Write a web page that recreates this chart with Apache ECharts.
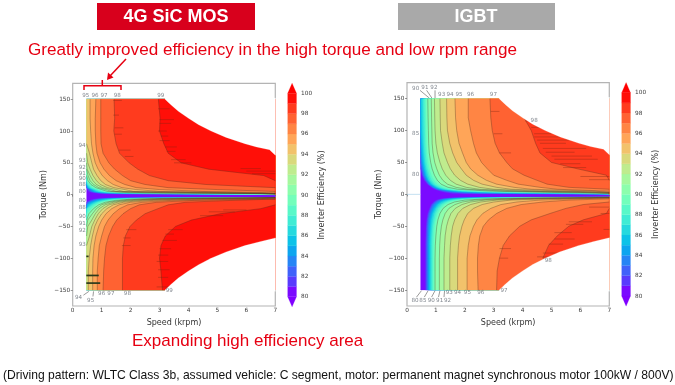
<!DOCTYPE html>
<html><head><meta charset="utf-8">
<style>html,body{margin:0;padding:0;background:#fff}#c{width:675px;height:385px;filter:blur(.45px)}</style>
<script src="https://cdn.jsdelivr.net/npm/echarts@6/dist/echarts.min.js"></script>
</head><body><div id="c"></div>
<script>
const torqueTicks=[-150,-100,-50,0,50,100,150];
const bandColors=['#7a0aff','#593bfd','#4062fa','#2685f5','#0da5ef','#0dc2e8','#26d9de','#40ecd4','#59f8c8','#73febb','#8cfead','#a6f89e','#bfec8e','#d9d97c','#f2c26b','#ffa558','#ff8544','#ff6232','#ff3b1e','#ff0f08'];
const upperRows=[150,120,100,80,65,50,40,30,22,16,11,8,5,3,1.5,0];
const lowerRows=[-150,-120,-100,-80,-65,-50,-40,-30,-22,-16,-12,-9,-7,-5.5,-4.5];
const envUpperSpeed=[3.19,3.4,3.65,4,4.35,4.78,5.3,5.95,6.35,6.8,7];
const envUpperTorque=[150,141,131,120,110,100,90,80,75,70.5,62];
const envLowerSpeed=[3.19,3.4,3.65,4,4.35,4.78,5.3,5.95,6.5,7];
const envLowerTorque=[-150,-141,-131,-120,-110,-100,-90,-80,-73.5,-68];
// speed at which each efficiency level 81..99 is reached on each torque row (0 = below the left edge, 7 = not reached)
const sicUpper=[
[0,0,0,0,0,0,0,0,0,0,0,.5,.55,.7,1,7],
[0,0,0,0,0,0,0,0,0,0,0,.55,.6,.78,1.2,7],
[0,0,0,0,0,0,0,0,0,0,.48,.58,.65,.86,1.4,7],
[0,0,0,0,0,0,0,0,0,0,.5,.62,.7,.95,1.7,7],
[0,0,0,0,0,0,0,0,0,.48,.53,.66,.75,1.05,2.1,7],
[0,0,0,0,0,0,0,0,0,.49,.56,.7,.82,1.18,2.6,7],
[0,0,0,0,0,0,0,0,0,.5,.6,.75,.9,1.33,3.2,7],
[0,0,0,0,0,0,0,0,.48,.53,.65,.82,1,1.5,4,7],
[0,0,0,0,0,0,0,0,.5,.58,.72,.9,1.1,1.75,5,7],
[0,0,0,0,0,0,0,.48,.53,.63,.8,1,1.2,2,6.5,7],
[0,0,0,0,0,0,.48,.53,.6,.72,.9,1.15,1.35,2.5,7,7],
[0,0,0,0,0,.48,.5,.6,.7,.82,1.03,1.3,1.5,3.2,7,7],
[0,0,0,0,.48,.52,.6,.7,.82,.95,1.2,1.5,1.75,4.5,7,7],
[0,0,0,.48,.58,.66,.72,.84,.97,1.13,1.42,1.8,2.1,5.5,7,7],
[.6,.6,.62,.65,.7,.78,.88,1.02,1.2,1.4,1.7,2.2,3,6.5,7,7],
[.8,.78,.78,.8,.84,.95,1.08,1.27,1.5,1.8,2.2,3,4.5,7,7,7],
[.97,.97,.97,.98,1.05,1.25,1.45,1.72,2,2.5,3.3,5,7,7,7,7],
[1.43,1.45,1.42,1.5,1.62,1.95,2.25,2.65,3.3,4.6,7,7,7,7,7,7],
[2.96,3.02,3,3.15,3.3,3.75,4.7,6.6,7,7,7,7,7,7,7,7]];
const sicLower=[
[0,0,0,0,0,0,0,0,0,0,.48,.57,.72,1.05,2.4],
[0,0,0,0,0,0,0,0,0,0,.5,.63,.8,1.2,2.9],
[0,0,0,0,0,0,0,0,0,0,.55,.7,.9,1.36,3.5],
[0,0,0,0,0,0,0,0,0,.48,.6,.77,1,1.55,4.2],
[0,0,0,0,0,0,0,0,0,.52,.67,.85,1.12,1.75,5],
[0,0,0,0,0,0,0,0,0,.58,.74,.95,1.27,2,6],
[0,0,0,0,0,0,0,0,.48,.65,.82,1.05,1.42,2.3,7],
[0,0,0,0,0,0,0,0,.52,.72,.9,1.17,1.6,2.7,7],
[0,0,0,0,0,0,0,.5,.64,.8,1,1.3,1.8,3.1,7],
[0,0,0,0,0,0,.48,.56,.72,.9,1.12,1.48,2.05,3.6,7],
[0,0,0,0,0,.48,.52,.68,.82,1,1.25,1.65,2.35,4.2,7],
[0,0,0,0,.48,.52,.66,.78,.92,1.12,1.4,1.85,2.7,5,7],
[0,0,0,.48,.58,.66,.76,.88,1.04,1.25,1.55,2.1,3.1,6,7],
[.54,.54,.57,.62,.68,.76,.86,1,1.18,1.4,1.75,2.4,3.7,7,7],
[.69,.69,.7,.74,.8,.9,1,1.15,1.35,1.6,2,2.8,4.5,7,7],
[.85,.85,.88,.92,1,1.1,1.22,1.4,1.62,1.9,2.4,3.4,6,7,7],
[1.05,1.07,1.1,1.15,1.24,1.38,1.52,1.74,2,2.3,2.9,4.2,7,7,7],
[1.72,1.72,1.72,1.75,1.82,1.98,2.2,2.5,2.95,3.3,3.9,5.5,7,7,7],
[3.1,3.05,3,3.05,3.2,3.55,4.1,5.1,6.5,7,7,7,7,7,7]];
const igbtUpper=[
[0,0,0,0,0,0,.47,.52,.6,.71,.84,.95,1.15,1.35,1.6,7],
[0,0,0,0,0,.47,.5,.55,.63,.73,.87,1,1.25,1.55,2,7],
[0,0,0,0,.47,.49,.53,.58,.66,.76,.9,1.05,1.38,1.8,2.6,7],
[0,0,0,.47,.49,.52,.56,.61,.69,.79,.94,1.1,1.5,2.1,3.4,7],
[0,0,.47,.5,.52,.55,.59,.64,.72,.82,.98,1.15,1.62,2.5,4.4,7],
[.5,.51,.52,.54,.56,.59,.63,.68,.75,.86,1.02,1.22,1.76,2.9,5.5,7],
[.55,.56,.57,.58,.6,.63,.67,.73,.8,.91,1.08,1.3,1.92,3.3,6.5,7],
[.6,.61,.62,.63,.65,.68,.72,.78,.86,.97,1.15,1.4,2.15,3.8,7,7],
[.65,.66,.67,.68,.7,.74,.78,.85,.94,1.06,1.26,1.55,2.5,4.4,7,7],
[.72,.73,.74,.75,.77,.82,.87,.95,1.05,1.18,1.42,1.75,2.9,5,7,7],
[.84,.85,.86,.87,.9,.96,1.03,1.12,1.24,1.4,1.7,2.1,3.4,6,7,7],
[.95,.96,.97,1,1.05,1.14,1.22,1.34,1.5,1.7,2.05,2.5,4,6.5,7,7],
[1.14,1.15,1.16,1.22,1.28,1.4,1.5,1.65,1.85,2.1,2.5,3,4.6,7,7,7],
[1.37,1.38,1.4,1.48,1.58,1.72,1.88,2.05,2.3,2.6,3.1,3.6,5.5,7,7,7],
[1.66,1.68,1.72,1.8,1.92,2.05,2.2,2.45,2.75,3.1,3.7,4.3,6.5,7,7,7],
[2.12,2.12,2.2,2.3,2.4,2.58,2.78,3,3.45,3.85,4.6,5.2,7,7,7,7],
[2.87,2.9,2.95,3.05,3.2,3.45,3.65,4.05,4.5,4.85,5.6,7,7,7,7,7],
[7,4.05,4.3,4.45,4.6,5,5.9,6.9,7,7,7,7,7,7,7,7]];
const igbtLower=[
[.64,.64,.64,.64,.65,.66,.68,.72,.78,.84,.92,1.02,1.18,1.5,3],
[.67,.67,.67,.67,.68,.69,.71,.75,.81,.88,.97,1.08,1.26,1.65,3.4],
[.7,.7,.7,.7,.71,.72,.74,.78,.85,.92,1.02,1.14,1.36,1.85,3.8],
[.73,.73,.73,.73,.74,.75,.77,.82,.89,.97,1.08,1.22,1.46,2.05,4.3],
[.76,.76,.76,.76,.77,.79,.81,.86,.93,1.03,1.14,1.3,1.58,2.3,5],
[.8,.8,.8,.8,.81,.83,.85,.9,.98,1.08,1.2,1.4,1.72,2.6,5.8],
[.84,.84,.84,.84,.85,.87,.9,.95,1.03,1.15,1.3,1.5,1.9,2.9,7],
[.88,.88,.88,.88,.89,.91,.95,1,1.09,1.22,1.38,1.62,2.1,3.3,7],
[.92,.92,.92,.93,.94,.96,1,1.06,1.16,1.3,1.48,1.78,2.35,3.8,7],
[.97,.97,.97,.98,1,1.03,1.07,1.14,1.25,1.42,1.64,2,2.7,4.4,7],
[1.12,1.12,1.12,1.13,1.15,1.19,1.24,1.32,1.45,1.66,1.92,2.35,3.2,5.2,7],
[1.28,1.28,1.28,1.3,1.32,1.37,1.43,1.52,1.67,1.9,2.2,2.7,3.7,6,7],
[1.48,1.48,1.48,1.5,1.53,1.58,1.65,1.76,1.93,2.2,2.55,3.1,4.2,7,7],
[1.75,1.75,1.75,1.78,1.82,1.9,1.98,2.1,2.3,2.6,3,3.6,4.9,7,7],
[2.08,2.08,2.08,2.12,2.18,2.3,2.42,2.62,2.9,3.25,3.8,4.6,6,7,7],
[2.46,2.44,2.44,2.47,2.52,2.64,2.82,3.1,3.45,3.95,4.7,5.6,7,7,7],
[3.1,3.12,3.2,3.33,3.55,3.9,4.3,4.95,5.5,6.1,7,7,7,7,7],
[7,7,4.7,4.9,5.2,5.6,6.1,6.9,7,7,7,7,7,7,7]];
const sicStreaks=[[2.95,3.35,135],[3,3.5,118],[3,3.4,112],[2.95,3.25,100],[3.05,3.3,92],[3,3.35,85],[3.2,3.6,75],[3.25,3.55,68],[3.4,3.9,55],[3.5,4.1,50],[5.8,6.5,41],[6,7,37],[6.2,7,33],[1.4,1.7,148],[1.4,1.6,125],[1.45,1.75,105],[1.45,1.7,95],[1.6,2,70],[1.8,2.1,60],[2.9,3.4,-145],[2.95,3.3,-130],[2.95,3.35,-118],[2.9,3.3,-105],[2.95,3.3,-95],[3,3.4,-85],[3.1,3.6,-72],[3.2,3.5,-62],[3.3,3.8,-55],[4.4,5.2,-33],[4.7,5.6,-27],[5.2,6,-24],[1.7,2,-80],[1.75,2,-68],[1.85,2.2,-55]];
const sicThickStreaks=[[.47,.9,-127],[.47,.95,-139],[.47,.55,-97]];
const igbtStreaks=[[4.1,4.6,115],[4.3,4.8,105],[4.4,5,95],[4.4,5.3,90],[4.5,5.6,85],[4.6,5.5,80],[4.7,6.2,72],[4.8,5.8,66],[5,6.4,60],[5.1,6.6,55],[5.3,6,48],[5.4,6.2,42],[6,7,28],[6.3,7,23],[2.9,3.2,130],[3,3.3,95],[3.2,3.6,65],[4.9,5.4,-78],[5.1,5.8,-70],[5.1,5.7,-60],[5.5,6.1,-47],[5.6,6.4,-43],[4.7,5.2,-92],[4.5,5,-98],[3.2,3.5,-100],[3.2,3.6,-85],[6.3,7,-20],[6.7,7,-30],[6.8,7,-55]];
const sicLabels=[[.45,156,'95'],[.77,156,'96'],[1.08,156,'97'],[1.54,156,'98'],[3.04,156,'99'],[.32,77,'94'],[.33,53,'93'],[.33,42,'92'],[.33,33,'91'],[.33,25,'90'],[.33,16,'88'],[.33,5,'80'],[.33,-9,'80'],[.33,-20,'88'],[.33,-34,'90'],[.33,-45,'91'],[.33,-57,'92'],[.33,-79,'93'],[.2,-161,'94'],[.62,-166,'95'],[1,-156,'96'],[1.32,-156,'97'],[1.89,-156,'98'],[3.34,-151,'99']];
const igbtLabels=[[.3,166,'90'],[.62,167,'91'],[.93,167,'92'],[1.2,156,'93'],[1.49,156,'94'],[1.8,156,'95'],[2.2,156,'96'],[2.99,156,'97'],[4.4,115,'98'],[.3,95,'85'],[.3,31,'80'],[.28,-167,'80'],[.55,-167,'85'],[.84,-167,'90'],[1.13,-167,'91'],[1.4,-167,'92'],[1.46,-154,'93'],[1.75,-154,'94'],[2.09,-154,'95'],[2.55,-154,'96'],[3.36,-150,'97'],[4.89,-104,'98']];
const sicLeaders=[[.37,-158,.56,-152],[.7,-160,.72,-152]];
const igbtLeaders=[[.45,163,.77,151],[.68,163,.86,151],[.97,163,.97,151],[.33,-161,.5,-151],[.6,-161,.73,-151],[.85,-161,.97,-151],[1.09,-161,1.14,-151],[1.28,-161,1.3,-151],[0,0,.47,0]];
const titleLeft='4G SiC MOS',titleRight='IGBT';
const noteTop='Greatly improved efficiency in the high torque and low rpm range';
const noteMid='Expanding high efficiency area';
const noteBottom='(Driving pattern: WLTC Class 3b, assumed vehicle: C segment, motor: permanent magnet synchronous motor 100kW / 800V)';

const lineColor='rgba(70,45,30,.55)';
function plotItems(up,lo,edge,streaks,thick,leaders){
  const items=[{t:'poly',pts:[[edge,150],[7,150],[7,-150],[edge,-150]],fill:bandColors[0]}];
  const addLobe=(table,rows)=>table.forEach((vals,i)=>{
    const pts=vals.map((v,j)=>[Math.max(v,edge),rows[j]]);
    pts.push([7,rows[rows.length-1]],[7,rows[0]]);
    items.push({t:'poly',pts,fill:bandColors[i+1]});
  });
  addLobe(up,upperRows);addLobe(lo,lowerRows);
  const addLines=(table,rows)=>table.forEach(vals=>{
    const inside=v=>v>edge&&v<7;
    const pts=[];
    vals.forEach((v,j)=>{
      if(inside(v)||inside(vals[j-1])||inside(vals[j+1]))pts.push([Math.max(v,edge),rows[j]]);
    });
    if(pts.length>1)items.push({t:'line',pts,stroke:lineColor,w:.6});
  });
  addLines(up.slice(9),upperRows);addLines(lo.slice(9),lowerRows);
  streaks.forEach(s=>items.push({t:'line',pts:[[s[0],s[2]],[s[1],s[2]]],stroke:'rgba(120,40,20,.6)',w:.6}));
  thick.forEach(s=>items.push({t:'line',pts:[[s[0],s[2]],[s[1],s[2]]],stroke:'#2c3a1c',w:1.7}));
  const envU=envUpperSpeed.map((s,i)=>[s,envUpperTorque[i]]);
  const envL=envLowerSpeed.map((s,i)=>[s,envLowerTorque[i]]);
  items.push({t:'poly',pts:[...envU,[7.01,envUpperTorque[envUpperTorque.length-1]],[7.01,152],[3.19,152]],fill:'#fff'});
  items.push({t:'poly',pts:[...envL,[7.01,envLowerTorque[envLowerTorque.length-1]],[7.01,-152],[3.19,-152]],fill:'#fff'});
  leaders.forEach(s=>items.push({t:'line',pts:[[s[0],s[1]],[s[2],s[3]]],stroke:s[0]===0?'#9ccbe8':'#555',w:.6}));
  return items;
}
function customSeries(items,idx){
  return {type:'custom',coordinateSystem:'cartesian2d',xAxisIndex:idx,yAxisIndex:idx,silent:true,clip:false,progressive:0,
    data:items.map(()=>[0,0]),
    renderItem:(p,api)=>{
      const it=items[p.dataIndex];
      const pts=it.pts.map(q=>api.coord(q));
      return it.t==='poly'
        ?{type:'polygon',shape:{points:pts},style:{fill:it.fill,stroke:it.fill,lineWidth:.2}}
        :{type:'polyline',shape:{points:pts},style:{fill:'none',stroke:it.stroke,lineWidth:it.w}};
    }};
}
function labelSeries(labels,idx){
  return {type:'scatter',xAxisIndex:idx,yAxisIndex:idx,silent:true,symbolSize:1,clip:false,itemStyle:{color:'transparent'},data:labels,
    label:{show:true,position:'inside',formatter:p=>p.data[2],fontSize:5.6,fontFamily:'DejaVu Sans',color:'#5f6670'}};
}
const cbarItems=[];
bandColors.forEach((c,i)=>cbarItems.push({t:'poly',pts:[[0,80+i],[1,80+i],[1,81+i],[0,81+i]],fill:c}));
cbarItems.push({t:'poly',pts:[[0,100],[1,100],[.5,101]],fill:'#ff0000'});
cbarItems.push({t:'poly',pts:[[0,80],[1,80],[.5,79]],fill:'#8000ff'});
const grids=[
 {left:72.7,top:83.3,width:202.6,height:222.7,show:true,borderColor:'#b4b4b4',borderWidth:1.2},
 {left:287.7,top:93.3,width:8.8,height:203.4},
 {left:407,top:82.7,width:202.3,height:223.3,show:true,borderColor:'#b4b4b4',borderWidth:1.2},
 {left:621.7,top:92.7,width:8.8,height:203.3}
];
const tickFont={fontSize:5.8,fontFamily:'DejaVu Sans',color:'#3a3a3a'};
const nameFont={fontSize:8,fontFamily:'DejaVu Sans',color:'#333'};
function xPlot(g){return {gridIndex:g,type:'value',min:0,max:7,interval:1,name:'Speed (krpm)',nameLocation:'middle',nameGap:13,nameMoveOverlap:false,nameTextStyle:nameFont,
  axisLine:{show:false},splitLine:{show:false},axisTick:{show:true,length:2,lineStyle:{color:'#555',width:.6}},axisLabel:{...tickFont,margin:1.5,showMinLabel:true,showMaxLabel:true}};}
function yPlot(g){return {gridIndex:g,type:'value',min:-175,max:175,name:'Torque (Nm)',nameLocation:'middle',nameGap:24.5,nameMoveOverlap:false,nameTextStyle:nameFont,
  axisLine:{show:false},splitLine:{show:false},axisTick:{show:true,length:2,customValues:torqueTicks,lineStyle:{color:'#555',width:.6}},
  axisLabel:{...tickFont,margin:2.5,customValues:torqueTicks,formatter:v=>String(v).replace('-','\u2212')}};}
function xBar(g){return {gridIndex:g,type:'value',min:0,max:1,show:false};}
function yBar(g){return {gridIndex:g,type:'value',position:'right',min:80,max:100,interval:2,name:'Inverter Efficiency (%)',nameLocation:'middle',nameRotate:90,nameGap:21,nameMoveOverlap:false,nameTextStyle:nameFont,
  axisLine:{show:false},splitLine:{show:false},axisTick:{show:false},axisLabel:{...tickFont,margin:4.5}};}
const RED='#e60012';
const graphicEls=[
 {type:'rect',shape:{x:97,y:3,width:158,height:27},style:{fill:'#d8001c'}},
 {type:'rect',shape:{x:398,y:3,width:157,height:27},style:{fill:'#a9a9a9'}},
 {type:'text',x:176,y:17,style:{text:titleLeft,fill:'#fff',font:'bold 18px "Liberation Sans"',textAlign:'center',textVerticalAlign:'middle'}},
 {type:'text',x:476,y:17,style:{text:titleRight,fill:'#fff',font:'bold 18px "Liberation Sans"',textAlign:'center',textVerticalAlign:'middle'}},
 {type:'text',x:28,y:50,style:{text:noteTop,fill:RED,font:'17.1px "Liberation Sans"',textAlign:'left',textVerticalAlign:'middle'}},
 {type:'text',x:132,y:341,style:{text:noteMid,fill:RED,font:'17px "Liberation Sans"',textAlign:'left',textVerticalAlign:'middle'}},
 {type:'text',x:3,y:376,style:{text:noteBottom,fill:'#111',font:'12.1px "Liberation Sans"',textAlign:'left',textVerticalAlign:'middle'}},
 {type:'polyline',shape:{points:[[84,90],[84,85.7],[121,85.7],[121,90]]},style:{fill:'none',stroke:RED,lineWidth:1.5}},
 {type:'line',shape:{x1:102.3,y1:85.7,x2:102.3,y2:80},style:{stroke:RED,lineWidth:1.5}},
 {type:'line',shape:{x1:126,y1:59,x2:110,y2:76},style:{stroke:RED,lineWidth:1.5}},
 {type:'polygon',shape:{points:[[107,80],[108,72.5],[113.5,77.5]]},style:{fill:RED}}
];
const chart=echarts.init(document.getElementById('c'),null,{renderer:'canvas'});
chart.setOption({
  animation:false,backgroundColor:'#fff',
  grid:grids,
  xAxis:[xPlot(0),xBar(1),xPlot(2),xBar(3)],
  yAxis:[yPlot(0),yBar(1),yPlot(2),yBar(3)],
  series:[
    customSeries(plotItems(sicUpper,sicLower,.48,sicStreaks,sicThickStreaks,sicLeaders),0),
    labelSeries(sicLabels,0),
    customSeries(cbarItems,1),
    customSeries(plotItems(igbtUpper,igbtLower,.47,igbtStreaks,[],igbtLeaders),2),
    labelSeries(igbtLabels,2),
    customSeries(cbarItems,3)
  ],
  graphic:graphicEls
});
</script></body></html>
